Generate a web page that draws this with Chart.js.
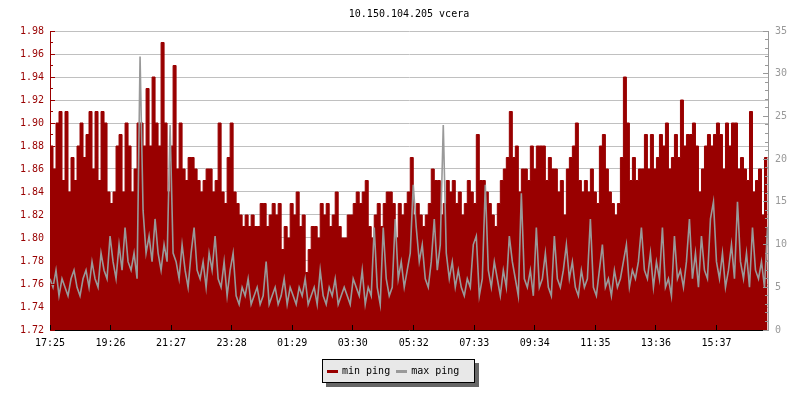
<!DOCTYPE html>
<html>
<head>
<meta charset="utf-8">
<title>10.150.104.205 vcera</title>
<script src="https://cdn.jsdelivr.net/npm/chart.js@4.4.1/dist/chart.umd.min.js"></script>
<style>
  body { margin: 0; background: #fff; }
  #wrap { position: relative; width: 800px; height: 400px; }
  #legend {
    position: absolute; left: 322px; top: 359px;
    width: 153px; height: 24px; box-sizing: border-box;
    border: 1px solid #000; background: #e8e8e8;
    box-shadow: 4px 4px 0 #666;
    font: 10px 'DejaVu Sans Mono', monospace; color: #000;
    line-height: 22px; padding-left: 4px; white-space: nowrap;
  }
  #legend .sw { display: inline-block; width: 11px; height: 3px; vertical-align: middle; margin-right: 4px; }
</style>
</head>
<body>
<div id="wrap">
  <canvas id="pingchart" width="800" height="400"></canvas>
  <div id="legend"><span class="sw" style="background:#990000"></span>min ping<span class="sw" style="background:#999999;margin-left:6px"></span>max ping</div>
</div>
<script>
// one sample every 6 minutes, starting 17:25
const sampleStep = 6;

// min ping (left axis)
const minPing = [
  1.88, 1.86, 1.90, 1.91, 1.85, 1.91, 1.84, 1.87, 1.85, 1.88,
  1.90, 1.87, 1.89, 1.91, 1.86, 1.91, 1.85, 1.91, 1.90, 1.84,
  1.83, 1.84, 1.88, 1.89, 1.84, 1.90, 1.88, 1.84, 1.86, 1.90,
  1.90, 1.88, 1.93, 1.88, 1.94, 1.90, 1.88, 1.97, 1.90, 1.84,
  1.88, 1.95, 1.86, 1.90, 1.86, 1.85, 1.87, 1.87, 1.86, 1.85,
  1.84, 1.85, 1.86, 1.86, 1.84, 1.85, 1.90, 1.84, 1.83, 1.87,
  1.90, 1.84, 1.83, 1.82, 1.81, 1.82, 1.81, 1.82, 1.81, 1.81,
  1.83, 1.83, 1.81, 1.82, 1.83, 1.82, 1.83, 1.79, 1.81, 1.80,
  1.83, 1.82, 1.84, 1.81, 1.82, 1.77, 1.79, 1.81, 1.81, 1.80,
  1.83, 1.82, 1.83, 1.81, 1.82, 1.84, 1.81, 1.80, 1.80, 1.82,
  1.82, 1.83, 1.84, 1.83, 1.84, 1.85, 1.81, 1.80, 1.82, 1.83,
  1.81, 1.83, 1.84, 1.84, 1.83, 1.80, 1.83, 1.82, 1.83, 1.84,
  1.87, 1.82, 1.83, 1.82, 1.81, 1.82, 1.83, 1.86, 1.85, 1.85,
  1.82, 1.83, 1.85, 1.84, 1.85, 1.83, 1.84, 1.82, 1.83, 1.85,
  1.84, 1.83, 1.89, 1.85, 1.85, 1.84, 1.83, 1.82, 1.81, 1.83,
  1.85, 1.86, 1.87, 1.91, 1.87, 1.88, 1.84, 1.86, 1.86, 1.85,
  1.88, 1.86, 1.88, 1.88, 1.88, 1.85, 1.87, 1.86, 1.86, 1.84,
  1.85, 1.82, 1.86, 1.87, 1.88, 1.90, 1.85, 1.84, 1.85, 1.84,
  1.86, 1.84, 1.83, 1.88, 1.89, 1.86, 1.84, 1.83, 1.82, 1.83,
  1.87, 1.94, 1.90, 1.85, 1.87, 1.85, 1.86, 1.86, 1.89, 1.86,
  1.89, 1.86, 1.87, 1.89, 1.88, 1.90, 1.86, 1.87, 1.89, 1.87,
  1.92, 1.88, 1.89, 1.89, 1.90, 1.88, 1.84, 1.86, 1.88, 1.89,
  1.88, 1.89, 1.90, 1.89, 1.86, 1.90, 1.88, 1.90, 1.90, 1.86,
  1.87, 1.86, 1.85, 1.91, 1.84, 1.85, 1.86, 1.82, 1.87, 1.87
];

// max ping (right axis)
const maxPing = [
  6, 5, 7, 4, 6, 5, 4, 6, 7, 5, 4, 6, 7, 5, 8, 6, 5,
  9, 7, 6, 11, 8, 6, 10, 7, 12, 8, 7, 9, 6,
  32,
  14, 9, 11, 8, 13, 9, 7, 10, 8, 24, 9,
  8, 6, 10, 7, 5, 9, 12, 7, 6, 8, 5, 9, 7, 11, 6, 5, 8, 4, 7, 9,
  4, 3, 5, 4, 6, 3, 4, 5, 3, 4, 8, 3, 4, 5, 3, 4, 6, 3, 5, 4, 3, 5,
  4, 6, 3, 4, 5, 3, 7, 4, 3, 5, 4, 6, 3, 4, 5, 4, 3, 6, 5,
  4, 7, 3, 5, 4, 12, 5, 3, 12, 6, 4, 5, 13, 6, 8, 5, 7, 9, 17, 12, 8, 10, 6, 5, 8, 13, 7, 10, 24, 9, 6, 8, 5, 7,
  5, 4, 6, 5, 10, 11, 4, 6, 17, 7, 5, 8, 6, 4, 7, 5, 11, 8, 6, 4, 16, 6, 5, 7, 4, 12, 5, 6, 9, 5, 4, 11, 6, 5, 7,
  10, 6, 8, 5, 4, 7, 5, 6, 13, 5, 4, 7, 10, 5, 6, 4, 7, 5, 6, 8, 10, 5, 7, 6, 8, 12, 7, 6, 9, 5, 8, 6, 12, 5,
  6, 4, 11, 6, 7, 5, 8, 13, 6, 9, 5, 11, 7, 6, 13, 15, 8, 6, 9, 5, 7, 10, 6, 15, 8, 6, 9, 5, 12, 7, 6, 8, 5, 12
];

const xTickLabels = ['17:25', '19:26', '21:27', '23:28', '01:29', '03:30',
                     '05:32', '07:33', '09:34', '11:35', '13:36', '15:37'];

// minutes since first label (wraps over midnight)
function minutesFromStart(label) {
    const toMin = s => parseInt(s.slice(0, 2)) * 60 + parseInt(s.slice(3, 5));
    return (toMin(label) - toMin(xTickLabels[0]) + 1440) % 1440;
}
const tickMinutes = xTickLabels.map(minutesFromStart);

const monoFont = { family: "'DejaVu Sans Mono', monospace", size: 10 };

// tick marks pointing into the plot, like the original
const innerTicks = {
    id: 'innerTicks',
    afterDatasetsDraw(chart) {
        const { ctx, chartArea, scales } = chart;
        const align = p => Math.round(p - 0.5) + 0.5;
        ctx.save();
        ctx.lineWidth = 1;

        ctx.strokeStyle = '#990000';
        const nLeft = Math.round((scales.y.max - scales.y.min) / 0.01);
        for (let k = 0; k <= nLeft; k++) {
            const py = align(scales.y.getPixelForValue(scales.y.min + k * 0.01));
            ctx.beginPath();
            ctx.moveTo(chartArea.left, py);
            ctx.lineTo(chartArea.left + (k % 2 === 0 ? 5 : 3), py);
            ctx.stroke();
        }

        ctx.strokeStyle = '#999999';
        for (let k = scales.y1.min; k <= scales.y1.max; k++) {
            const py = align(scales.y1.getPixelForValue(k));
            ctx.beginPath();
            ctx.moveTo(chartArea.right, py);
            ctx.lineTo(chartArea.right - (k % 5 === 0 ? 5 : 3), py);
            ctx.stroke();
        }

        ctx.strokeStyle = '#000';
        tickMinutes.forEach(m => {
            const px = align(scales.x.getPixelForValue(m));
            ctx.beginPath();
            ctx.moveTo(px, chartArea.bottom);
            ctx.lineTo(px, chartArea.bottom - 5);
            ctx.stroke();
        });
        ctx.restore();
    }
};

const chart = new Chart(document.getElementById('pingchart'), {
    type: 'line',
    data: {
        datasets: [
            {
                label: 'min ping',
                data: minPing.map((v, i) => ({ x: i * sampleStep, y: v })),
                yAxisID: 'y',
                stepped: true,
                fill: 'start',
                backgroundColor: '#990000',
                borderColor: '#990000',
                borderWidth: 1,
                pointRadius: 0,
                order: 2
            },
            {
                label: 'max ping',
                data: maxPing.map((v, i) => ({ x: i * sampleStep, y: v })),
                yAxisID: 'y1',
                fill: false,
                borderColor: '#999999',
                borderWidth: 1.6,
                pointRadius: 0,
                tension: 0,
                order: 1
            }
        ]
    },
    options: {
        responsive: false,
        animation: false,
        devicePixelRatio: 1,
        layout: { padding: { left: 18, right: 0, top: 0, bottom: 0 } },
        plugins: {
            legend: { display: false },
            tooltip: { enabled: false },
            title: {
                display: true,
                text: '10.150.104.205 vcera',
                color: '#000',
                font: { ...monoFont, weight: 'normal' },
                padding: { top: 8, bottom: 11 }
            }
        },
        scales: {
            x: {
                type: 'linear',
                min: 0,
                max: 1435,
                grid: { display: false, drawTicks: false },
                border: { color: '#000', width: 1 },
                afterBuildTicks: s => { s.ticks = tickMinutes.map(v => ({ value: v })); },
                ticks: {
                    autoSkip: false,
                    maxRotation: 0,
                    padding: 7,
                    color: '#000',
                    font: monoFont,
                    callback: (v, i) => xTickLabels[i]
                },
                afterFit: s => { s.height = 70; }
            },
            y: {
                position: 'left',
                min: 1.72,
                max: 1.98,
                grid: { color: '#c0c0c0', drawTicks: false },
                border: { color: '#990000', width: 1 },
                ticks: {
                    stepSize: 0.02,
                    padding: 6,
                    color: '#990000',
                    font: monoFont,
                    callback: v => v.toFixed(2)
                },
                afterFit: s => { s.width = 32; }
            },
            y1: {
                position: 'right',
                min: 0,
                max: 35,
                grid: { drawOnChartArea: false, drawTicks: false },
                border: { color: '#999999', width: 1 },
                ticks: {
                    stepSize: 5,
                    padding: 7,
                    color: '#999999',
                    font: monoFont
                },
                afterFit: s => { s.width = 32; }
            }
        }
    },
    plugins: [innerTicks]
});
</script>
</body>
</html>
